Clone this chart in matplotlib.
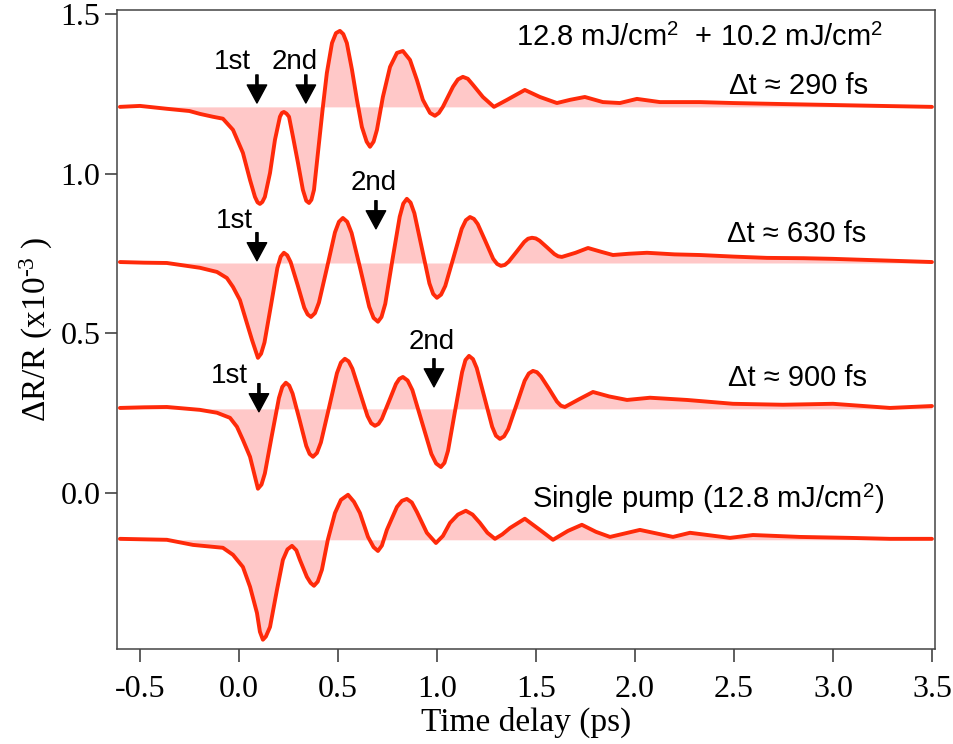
import numpy as np
import matplotlib
matplotlib.use("Agg")
import matplotlib.pyplot as plt

plt.rcParams['axes.unicode_minus'] = False
plt.rcParams['mathtext.fontset'] = 'custom'
plt.rcParams['mathtext.rm'] = 'Liberation Serif'
plt.rcParams['mathtext.it'] = 'Liberation Serif:italic'
plt.rcParams['mathtext.sf'] = 'Liberation Sans'

# time delay (ps) and dR/R (x1e-3), one pair of lists per trace
t_290 = [-0.601, -0.500, -0.364, -0.250, -0.197, -0.131, -0.081, -0.030, 0.020, 0.056, 0.081, 0.094,
         0.106, 0.118, 0.131, 0.157, 0.182, 0.207, 0.217, 0.227, 0.240, 0.253, 0.273, 0.298,
         0.323, 0.340, 0.354, 0.366, 0.379, 0.399, 0.424, 0.444, 0.470, 0.490, 0.510, 0.527,
         0.545, 0.571, 0.596, 0.621, 0.645, 0.662, 0.680, 0.697, 0.727, 0.763, 0.798, 0.828,
         0.864, 0.899, 0.929, 0.965, 0.990, 1.010, 1.030, 1.081, 1.106, 1.131, 1.156, 1.182,
         1.232, 1.288, 1.354, 1.444, 1.520, 1.606, 1.672, 1.747, 1.838, 1.924, 2.010, 2.126,
         2.328, 2.495, 2.732, 2.985, 3.237, 3.500]
y_290 = [1.209, 1.212, 1.203, 1.196, 1.187, 1.178, 1.172, 1.137, 1.065, 0.980, 0.927, 0.910,
         0.905, 0.911, 0.927, 1.002, 1.106, 1.178, 1.190, 1.193, 1.188, 1.178, 1.115, 1.034,
         0.949, 0.915, 0.908, 0.918, 0.949, 1.065, 1.209, 1.315, 1.409, 1.440, 1.447, 1.437,
         1.409, 1.325, 1.231, 1.146, 1.100, 1.084, 1.100, 1.137, 1.240, 1.334, 1.378, 1.384,
         1.356, 1.293, 1.231, 1.190, 1.181, 1.190, 1.209, 1.272, 1.295, 1.303, 1.297, 1.278,
         1.240, 1.209, 1.231, 1.262, 1.240, 1.221, 1.231, 1.240, 1.224, 1.221, 1.234, 1.224,
         1.224, 1.221, 1.218, 1.215, 1.212, 1.209]

t_630 = [-0.601, -0.480, -0.364, -0.197, -0.111, -0.061, -0.030, 0.005, 0.040, 0.066, 0.096,
         0.112, 0.129, 0.162, 0.194, 0.211, 0.227, 0.244, 0.261, 0.296, 0.330, 0.347, 0.364,
         0.384, 0.404, 0.445, 0.485, 0.505, 0.525, 0.547, 0.569, 0.614, 0.658, 0.680, 0.702,
         0.720, 0.739, 0.775, 0.812, 0.830, 0.848, 0.867, 0.886, 0.924, 0.962, 0.981, 1.000,
         1.021, 1.042, 1.084, 1.125, 1.146, 1.167, 1.187, 1.206, 1.245, 1.284, 1.304, 1.323,
         1.343, 1.362, 1.402, 1.441, 1.460, 1.480, 1.499, 1.518, 1.556, 1.593, 1.612, 1.631,
         1.700, 1.763, 1.830, 1.889, 1.970, 2.061, 2.200, 2.328, 2.500, 2.667, 2.850, 3.000,
         3.250, 3.500]
y_630 = [0.723, 0.721, 0.720, 0.705, 0.692, 0.673, 0.645, 0.604, 0.532, 0.479, 0.423,
         0.436, 0.471, 0.588, 0.704, 0.740, 0.752, 0.744, 0.723, 0.652, 0.580, 0.559, 0.551,
         0.563, 0.596, 0.706, 0.816, 0.849, 0.861, 0.849, 0.814, 0.699, 0.583, 0.548, 0.536,
         0.551, 0.592, 0.729, 0.865, 0.906, 0.921, 0.909, 0.876, 0.766, 0.656, 0.623, 0.611,
         0.621, 0.648, 0.738, 0.827, 0.854, 0.864, 0.858, 0.842, 0.788, 0.733, 0.717, 0.711,
         0.714, 0.724, 0.755, 0.786, 0.796, 0.799, 0.797, 0.790, 0.769, 0.748, 0.741, 0.739,
         0.752, 0.767, 0.755, 0.745, 0.749, 0.752, 0.747, 0.745, 0.740, 0.736, 0.735, 0.733,
         0.728, 0.723]

t_900 = [-0.601, -0.480, -0.364, -0.197, -0.111, -0.045, -0.010, 0.020, 0.056, 0.096,
         0.114, 0.131, 0.166, 0.202, 0.219, 0.237, 0.254, 0.271, 0.306, 0.340, 0.357, 0.374,
         0.394, 0.414, 0.455, 0.495, 0.515, 0.535, 0.554, 0.573, 0.611, 0.649, 0.668, 0.687,
         0.705, 0.722, 0.758, 0.793, 0.810, 0.828, 0.852, 0.876, 0.924, 0.972, 0.996, 1.020,
         1.038, 1.056, 1.091, 1.127, 1.144, 1.162, 1.182, 1.201, 1.240, 1.279, 1.298, 1.318,
         1.339, 1.360, 1.402, 1.443, 1.464, 1.485, 1.505, 1.525, 1.566, 1.606, 1.626, 1.646,
         1.717, 1.788, 1.870, 1.960, 2.076, 2.263, 2.495, 2.747, 3.000, 3.288, 3.500]
y_900 = [0.266, 0.268, 0.269, 0.260, 0.251, 0.235, 0.207, 0.166, 0.113, 0.013,
         0.026, 0.061, 0.179, 0.297, 0.332, 0.345, 0.336, 0.311, 0.229, 0.147, 0.122, 0.113,
         0.125, 0.158, 0.267, 0.375, 0.408, 0.420, 0.412, 0.389, 0.315, 0.241, 0.218, 0.210,
         0.216, 0.232, 0.287, 0.341, 0.357, 0.363, 0.352, 0.322, 0.222, 0.122, 0.092, 0.081,
         0.094, 0.132, 0.255, 0.378, 0.416, 0.429, 0.419, 0.391, 0.299, 0.207, 0.179, 0.169,
         0.177, 0.200, 0.276, 0.351, 0.374, 0.382, 0.378, 0.365, 0.326, 0.286, 0.273, 0.269,
         0.293, 0.316, 0.302, 0.291, 0.298, 0.291, 0.279, 0.276, 0.279, 0.266, 0.272]

t_single = [-0.601, -0.364, -0.232, -0.081, -0.030, 0.020, 0.056, 0.091, 0.106, 0.121, 0.136,
            0.157, 0.192, 0.222, 0.245, 0.268, 0.290, 0.308, 0.343, 0.362, 0.379, 0.398, 0.419,
            0.449, 0.485, 0.515, 0.551, 0.581, 0.611, 0.652, 0.680, 0.702, 0.722, 0.747, 0.798,
            0.823, 0.848, 0.873, 0.899, 0.949, 0.995, 1.030, 1.066, 1.106, 1.146, 1.180, 1.217,
            1.255, 1.293, 1.330, 1.369, 1.444, 1.520, 1.586, 1.662, 1.732, 1.803, 1.874, 2.025,
            2.192, 2.278, 2.480, 2.596, 2.833, 3.086, 3.288, 3.500]
y_single = [-0.144, -0.147, -0.163, -0.172, -0.194, -0.232, -0.294, -0.376, -0.435, -0.460, -0.450,
            -0.420, -0.304, -0.210, -0.177, -0.166, -0.180, -0.210, -0.263, -0.282, -0.291, -0.278, -0.241,
            -0.147, -0.063, -0.022, -0.006, -0.028, -0.063, -0.138, -0.170, -0.182, -0.165, -0.116, -0.044,
            -0.025, -0.019, -0.030, -0.060, -0.125, -0.157, -0.135, -0.094, -0.068, -0.056, -0.068, -0.094,
            -0.125, -0.144, -0.130, -0.110, -0.081, -0.116, -0.147, -0.119, -0.100, -0.122, -0.138, -0.116,
            -0.138, -0.125, -0.141, -0.132, -0.138, -0.141, -0.144, -0.144]

traces = [(t_290, y_290, 1.209), (t_630, y_630, 0.720),
          (t_900, y_900, 0.263), (t_single, y_single, -0.147)]

line_col = '#ff2a0a'
fill_col = '#ffc8c8'

fig = plt.figure(figsize=(9.54, 7.44), dpi=100)
ax = fig.add_axes([0.1226, 0.1277, 0.8574, 0.8589])

for t, y, base in traces:
    ax.fill_between(t, y, base, color=fill_col, lw=0)
    ax.plot(t, y, color=line_col, lw=2.8, solid_joinstyle='round', solid_capstyle='round')

ax.set_xlim(-0.616, 3.515)
ax.set_ylim(-0.489, 1.5125)
ax.set_xticks([-0.5, 0.0, 0.5, 1.0, 1.5, 2.0, 2.5, 3.0, 3.5])
ax.set_yticks([0.0, 0.5, 1.0, 1.5])
ax.xaxis.set_major_formatter(matplotlib.ticker.FormatStrFormatter('%.1f'))
ax.yaxis.set_major_formatter(matplotlib.ticker.FormatStrFormatter('%.1f'))
ax.tick_params(axis='both', direction='out', length=9, width=1.1, color='#333333')
ax.tick_params(axis='x', pad=10)
ax.tick_params(axis='y', pad=3)
for lab in ax.get_xticklabels() + ax.get_yticklabels():
    lab.set_fontfamily('Liberation Serif')
    lab.set_fontsize(23)
for sp in ax.spines.values():
    sp.set_color('#444444')
    sp.set_linewidth(1.1)

ax.set_xlabel('Time delay (ps)', family='Liberation Serif', fontsize=24, labelpad=2)
ax.set_ylabel(r'ΔR/R (x10$^{\text{-}3}$ )', family='Liberation Serif', fontsize=24, labelpad=4)

sans = 'Liberation Sans'
ax.text(1.40, 1.425, r'12.8 mJ/cm$^{\mathsf{2}}$  + 10.2 mJ/cm$^{\mathsf{2}}$', family=sans,
        fontsize=21, ha='left', va='center')
ax.text(3.18, 1.274, 'Δt ≈ 290 fs', family=sans, fontsize=21, ha='right', va='center')
ax.text(3.17, 0.811, 'Δt ≈ 630 fs', family=sans, fontsize=21, ha='right', va='center')
ax.text(3.17, 0.360, 'Δt ≈ 900 fs', family=sans, fontsize=21, ha='right', va='center')
ax.text(1.48, -0.020, r'Single pump (12.8 mJ/cm$^{\mathsf{2}}$)', family=sans, fontsize=21,
        ha='left', va='center')

# arrows marking the two pump arrivals
arrow_kw = dict(facecolor='black', edgecolor='black', width=1.6, headwidth=14,
                headlength=13, shrink=0)
marks = [('1st', 0.091, 1.221, -0.033, 1.348), ('2nd', 0.338, 1.221, 0.283, 1.351),
         ('1st', 0.091, 0.727, -0.023, 0.850), ('2nd', 0.692, 0.827, 0.682, 0.971),
         ('1st', 0.101, 0.254, -0.048, 0.365), ('2nd', 0.985, 0.332, 0.972, 0.471)]
for lab, xa, ya, xt, yt in marks:
    ax.annotate('', xy=(xa, ya), xytext=(xa, ya + 0.088), arrowprops=arrow_kw)
    ax.text(xt, yt, lab, family=sans, fontsize=20, ha='center', va='center')

plt.savefig('out.png', dpi=100)
plt.close()
